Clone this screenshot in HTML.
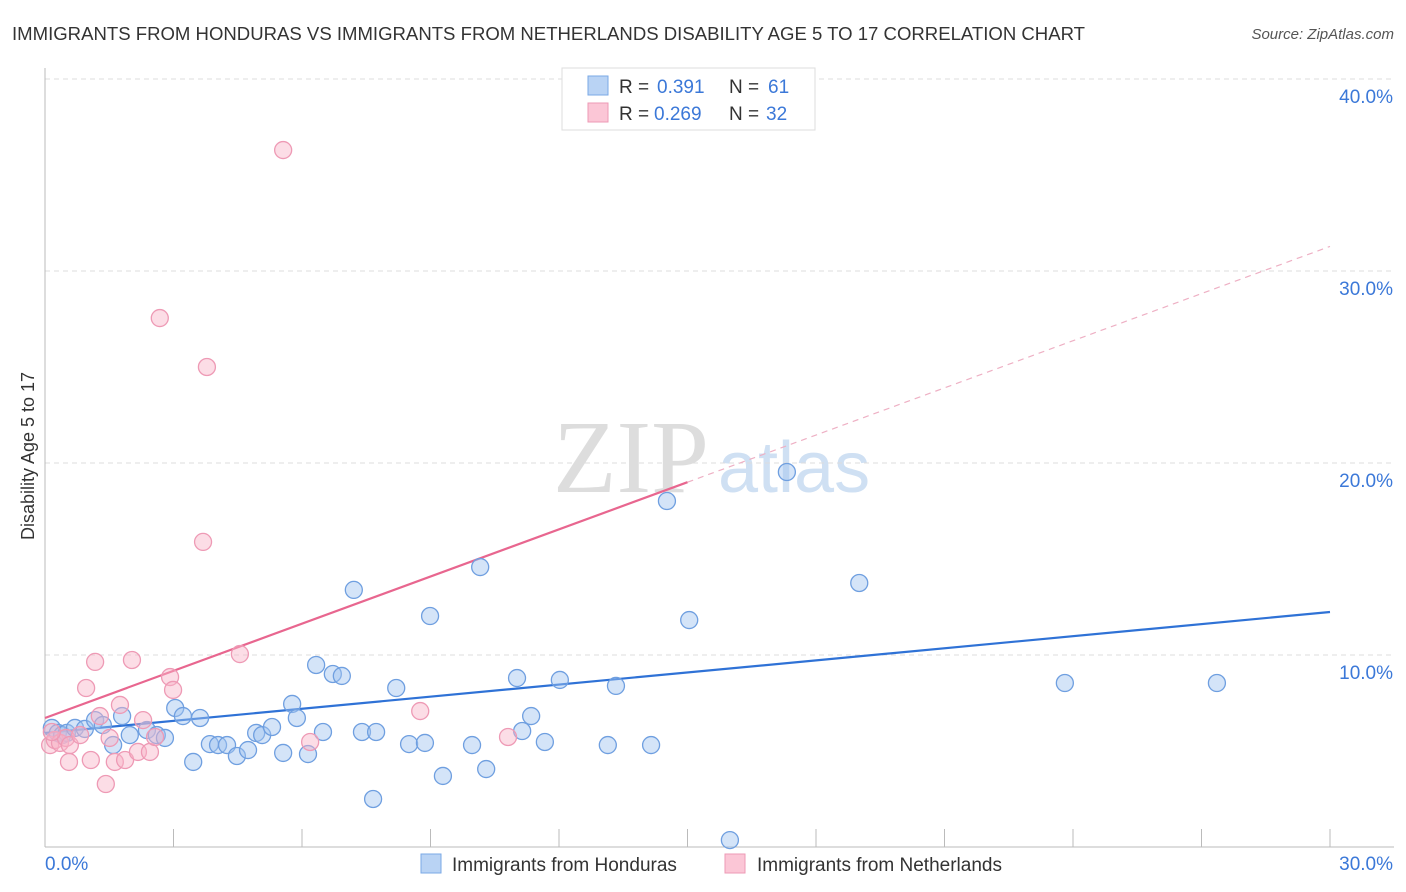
<!DOCTYPE html>
<html><head><meta charset="utf-8"><style>
body{margin:0;background:#fff;font-family:"Liberation Sans",sans-serif}
svg{display:block}
</style></head><body>
<svg id="chart" width="1406" height="892" xmlns="http://www.w3.org/2000/svg" font-family="Liberation Sans, sans-serif">
<text x="12" y="40" font-size="18" fill="#333" textLength="1073" lengthAdjust="spacingAndGlyphs">IMMIGRANTS FROM HONDURAS VS IMMIGRANTS FROM NETHERLANDS DISABILITY AGE 5 TO 17 CORRELATION CHART</text>
<text x="1394" y="39" font-size="15" fill="#555" font-style="italic" text-anchor="end">Source: ZipAtlas.com</text>
<text x="553" y="492" font-size="104" fill="#ddd" font-family="Liberation Serif, serif">ZIP</text>
<text x="718" y="492" font-size="72" fill="#cfe0f3">atlas</text>
<g id="grid"></g>
<g id="axes"></g>
<g id="lines"></g>
<g id="pts"></g>
<text transform="translate(34,456) rotate(-90)" font-size="18" fill="#333" text-anchor="middle">Disability Age 5 to 17</text>
<g>
<rect x="562" y="68" width="253" height="62" fill="#fff" stroke="#ddd"/>
<rect x="588" y="76" width="20" height="19" fill="#b9d3f4" stroke="#7aa8e6"/>
<rect x="588" y="103" width="20" height="19" fill="#fbc6d6" stroke="#ee9ab5"/>
<text x="619" y="93" font-size="19" fill="#333">R = </text><text x="657" y="93" font-size="19" fill="#3b78d8">0.391</text>
<text x="729" y="93" font-size="19" fill="#333">N = </text><text x="768" y="93" font-size="19" fill="#3b78d8">61</text>
<text x="619" y="120" font-size="19" fill="#333">R = </text><text x="654" y="120" font-size="19" fill="#3b78d8">0.269</text>
<text x="729" y="120" font-size="19" fill="#333">N = </text><text x="766" y="120" font-size="19" fill="#3b78d8">32</text>
</g>
<g>
<rect x="421" y="854" width="20" height="19" fill="#b9d3f4" stroke="#7aa8e6"/>
<text x="452" y="871" font-size="19" fill="#333">Immigrants from Honduras</text>
<rect x="725" y="854" width="20" height="19" fill="#fbc6d6" stroke="#ee9ab5"/>
<text x="757" y="871" font-size="19" fill="#333">Immigrants from Netherlands</text>
</g>
</svg>
<script>
const blueX=[0.16,0.3,0.4,0.51,0.7,0.93,1.17,1.35,1.59,1.8,1.98,2.38,2.61,2.8,3.04,3.22,3.46,3.62,3.85,4.04,4.25,4.48,4.74,4.93,5.07,5.3,5.56,5.77,5.88,6.14,6.33,6.49,6.72,6.93,7.21,7.4,7.66,7.73,8.2,8.5,8.87,8.99,9.29,9.97,10.16,10.3,11.02,11.14,11.35,11.67,12.02,13.14,13.33,14.15,14.52,15.04,15.99,17.32,19.01,23.81,27.36];
const blueY=[6.2,5.94,5.83,5.94,6.2,6.15,6.61,6.35,5.31,6.82,5.83,6.09,5.83,5.68,7.24,6.82,4.43,6.72,5.36,5.31,5.31,4.74,5.05,5.94,5.83,6.25,4.9,7.45,6.72,4.84,9.48,5.99,9.01,8.91,13.39,5.99,2.5,5.99,8.28,5.36,5.42,12.03,3.7,5.31,14.58,4.06,8.8,6.04,6.82,5.47,8.7,5.31,8.39,5.31,18.02,11.82,0.36,19.53,13.75,8.54,8.54];
const pinkX=[0.12,0.23,0.35,0.49,0.58,0.82,0.96,1.17,1.28,1.42,1.51,1.63,1.75,1.87,2.03,2.17,2.29,2.45,2.57,2.68,2.92,2.99,3.69,3.78,4.55,5.56,6.19,8.76,10.81,0.56,1.07,0.16];
const pinkY=[5.31,5.57,5.42,5.68,5.31,5.83,8.28,9.64,6.82,3.28,5.68,4.43,7.4,4.53,9.74,4.95,6.61,4.95,5.73,27.55,8.85,8.18,15.89,25.0,10.05,36.3,5.47,7.08,5.73,4.43,4.53,5.99];
const blueLine=[5.94,12.24], pinkLine=[6.72,31.28];
const yTicks=[10,20,30,40], yTickLabels=["10.0%","20.0%","30.0%","40.0%"];
const xTicks=[0,3,6,9,12,15,18,21,24,27,30];
const NS="http://www.w3.org/2000/svg";
const sx=v=>45+v*42.833, sy=v=>847-v*19.2;
function mk(tag,attrs,parent){const e=document.createElementNS(NS,tag);for(const k in attrs)e.setAttribute(k,attrs[k]);document.getElementById(parent).appendChild(e);return e;}
mk('line',{x1:45,x2:1394,y1:79,y2:79,stroke:'#ddd','stroke-dasharray':'5,4'},'grid');
yTicks.forEach((t,i)=>{
 const l=mk('line',{x1:45,x2:1394,y1:sy(t),y2:sy(t),stroke:'#ddd','stroke-dasharray':'5,4'},'grid');
 
 
 const tx=mk('text',{x:1393,y:sy(t)+24,'font-size':19,fill:'#3b78d8','text-anchor':'end'},'axes');
 tx.textContent=yTickLabels[i];
 
 
});
const ya=mk('line',{x1:45,x2:45,y1:68,y2:847,stroke:'#bbb'},'axes');


const xa=mk('line',{x1:45,x2:1394,y1:847,y2:847,stroke:'#bbb'},'axes');


xTicks.forEach(t=>{
 const l=mk('line',{x1:sx(t),x2:sx(t),y1:829,y2:847,stroke:'#bbb'},'axes');
 
 
});
const x0=mk('text',{x:45,y:870,'font-size':19,fill:'#3b78d8'},'axes');x0.textContent='0.0%';


const x1=mk('text',{x:1393,y:870,'font-size':19,fill:'#3b78d8','text-anchor':'end'},'axes');x1.textContent='30.0%';


blueX.forEach((x,i)=>{
 const c=mk('circle',{cx:sx(x),cy:sy(blueY[i]),r:8.5,fill:'rgba(160,196,240,0.45)',stroke:'#6f9fe0','stroke-width':1.3},'pts');
 
 
});
pinkX.forEach((x,i)=>{
 const c=mk('circle',{cx:sx(x),cy:sy(pinkY[i]),r:8.5,fill:'rgba(249,180,200,0.45)',stroke:'#ee9ab5','stroke-width':1.3},'pts');
 
 
});
const bl=mk('line',{x1:sx(0),y1:sy(blueLine[0]),x2:sx(30),y2:sy(blueLine[1]),stroke:'#2f72d6','stroke-width':2.2},'lines');


const pm=pinkLine[0]+(pinkLine[1]-pinkLine[0])*15/30;
const pl=mk('line',{x1:sx(0),y1:sy(pinkLine[0]),x2:sx(15),y2:sy(pm),stroke:'#e8668f','stroke-width':2.2},'lines');


const pd=mk('line',{x1:sx(15),y1:sy(pm),x2:sx(30),y2:sy(pinkLine[1]),stroke:'#eeb0c4','stroke-width':1.2,'stroke-dasharray':'6,5'},'lines');


</script>
</body></html>
